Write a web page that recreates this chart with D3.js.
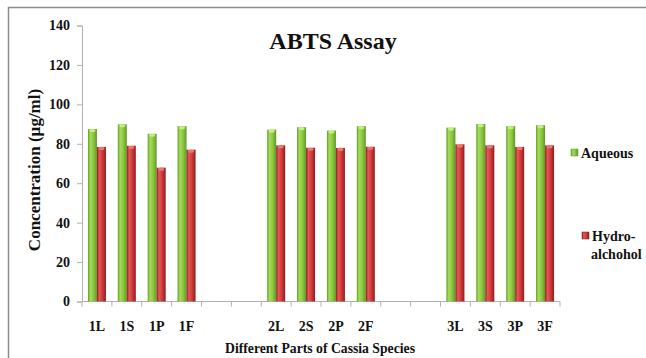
<!DOCTYPE html>
<html><head><meta charset="utf-8">
<script src="https://cdn.jsdelivr.net/npm/d3@7/dist/d3.min.js"></script>
<style>body{margin:0;background:#fff}svg{display:block}text{font-family:"Liberation Serif","Times New Roman",serif;font-weight:bold;fill:#111}</style>
</head><body><svg id="c" width="646" height="358"></svg>
<script>
const categories = ["1L","1S","1P","1F","_a","_b","2L","2S","2P","2F","_c","_d","3L","3S","3P","3F"];
const aqueous =      [87.5, 89.9, 85.1, 88.9, null, null, 87.2, 88.4, 86.7, 88.9, null, null, 88.2, 90.0, 88.9, 89.4];
const hydroalcohol = [78.4, 79.0, 67.9, 77.0, null, null, 79.2, 78.0, 77.9, 78.5, null, null, 79.7, 79.2, 78.4, 79.2];
const yTicks = [0,20,40,60,80,100,120,140];
const seriesNames = ["Aqueous","Hydro-alchohol"];

const svg = d3.select("#c");
const defs = svg.append("defs");
function grad(id, dark, mid, light){
  const g = defs.append("linearGradient").attr("id",id).attr("x1","0").attr("x2","1").attr("y1","0").attr("y2","0");
  g.append("stop").attr("offset","0").attr("stop-color",dark);
  g.append("stop").attr("offset","0.25").attr("stop-color",light);
  g.append("stop").attr("offset","0.6").attr("stop-color",mid);
  g.append("stop").attr("offset","1").attr("stop-color",dark);
}
grad("gG","#5f9a2a","#8dc83f","#a6dc5a");
grad("gR","#8e1d1d","#d2393a","#e05a55");

// outer border
svg.append("rect").attr("x",8.5).attr("y",7.5).attr("width",660).attr("height",370)
  .attr("fill","none").attr("stroke","#8c8c8c").attr("stroke-width",1.5);

const x = d3.scaleBand().domain(categories).range([82,560]).paddingInner(0).paddingOuter(0);
const y = d3.scaleLinear().domain([0,140]).range([301.5,25.5]);

// y axis
const ya = svg.append("g").attr("transform","translate(82,0)")
  .call(d3.axisLeft(y).tickValues(yTicks).tickSize(5).tickPadding(7));
ya.attr("font-family",null);
ya.select(".domain").attr("stroke","#b0b0b0");
ya.selectAll(".tick line").attr("stroke","#b0b0b0");
ya.selectAll(".tick text").attr("font-size",14).attr("font-family","Liberation Serif").attr("font-weight","bold").attr("fill","#111");

// x axis with ticks between categories
const xa = svg.append("g").attr("transform","translate(0,301.5)");
xa.append("line").attr("x1",82).attr("x2",560).attr("stroke","#b0b0b0");
const bounds = categories.map(c=>x(c)).concat([x(categories[categories.length-1])+x.bandwidth()]);
xa.selectAll("line.t").data(bounds).enter().append("line").attr("class","t")
  .attr("x1",d=>d).attr("x2",d=>d).attr("y1",0).attr("y2",5).attr("stroke","#b0b0b0");
xa.selectAll("text").data(categories.filter(c=>!c.startsWith("_"))).enter().append("text")
  .attr("x",c=>x(c)+x.bandwidth()/2).attr("y",29).attr("text-anchor","middle")
  .attr("font-size",14).text(c=>c);

const bw = 9;
const series = [{vals:aqueous, fill:"url(#gG)", cap:"#c4ee84", off:-bw},{vals:hydroalcohol, fill:"url(#gR)", cap:"#ee7670", off:0}];
series.forEach(s=>{
  const g = svg.append("g");
  const data = categories.map((c,i)=>({c, v:s.vals[i]})).filter(d=>d.v!=null);
  g.selectAll("rect.b").data(data).enter().append("rect").attr("class","b")
    .attr("x",d=>x(d.c)+x.bandwidth()/2+s.off).attr("width",bw)
    .attr("y",d=>y(d.v)).attr("height",d=>y(0)-y(d.v)).attr("fill",s.fill);
  g.selectAll("ellipse").data(data).enter().append("ellipse")
    .attr("cx",d=>x(d.c)+x.bandwidth()/2+s.off+bw/2).attr("cy",d=>y(d.v)+1.5)
    .attr("rx",3).attr("ry",1.6).attr("fill",s.cap);
});

// title
svg.append("text").attr("x",333).attr("y",49).attr("text-anchor","middle").attr("font-size",24).text("ABTS Assay");
// y title
svg.append("text").attr("transform","translate(40,170) rotate(-90)").attr("text-anchor","middle").attr("font-size",17).text("Concentration (µg/ml)");
// x title
svg.append("text").attr("x",320).attr("y",353).attr("text-anchor","middle").attr("font-size",14)
  .attr("textLength",190).attr("lengthAdjust","spacingAndGlyphs").text("Different Parts of Cassia Species");

// legend
const lg = svg.append("g");
lg.append("rect").attr("x",571).attr("y",149).attr("width",7).attr("height",7).attr("fill","url(#gG)").attr("stroke","#6a9a30").attr("stroke-width",0.5);
lg.append("text").attr("x",581).attr("y",158).attr("font-size",14).text(seriesNames[0]);
lg.append("rect").attr("x",582).attr("y",232).attr("width",7).attr("height",7).attr("fill","url(#gR)").attr("stroke","#8e1d1d").attr("stroke-width",0.5);
lg.append("text").attr("x",592).attr("y",241).attr("font-size",14).text("Hydro-");
lg.append("text").attr("x",591).attr("y",259).attr("font-size",14).text("alchohol");
</script></body></html>
